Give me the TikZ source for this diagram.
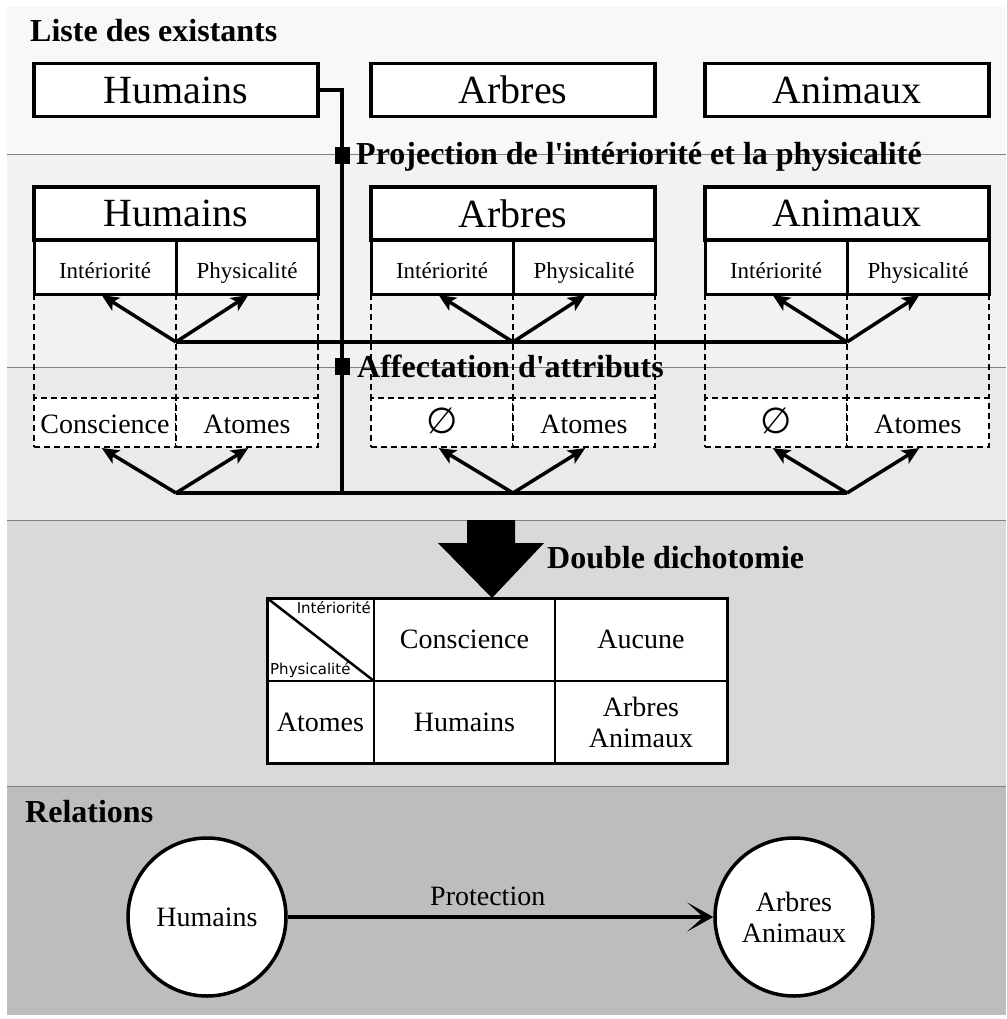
\documentclass[tikz,border=0pt]{standalone}
\usepackage{fontspec}
\setmainfont{Liberation Serif}
\newfontfamily\cellsans{DejaVu Sans}
\usetikzlibrary{positioning,arrows.meta}

\definecolor{bandA}{HTML}{F8F8F8}
\definecolor{bandB}{HTML}{F2F2F2}
\definecolor{bandC}{HTML}{EAEAEA}
\definecolor{bandD}{HTML}{D9D9D9}
\definecolor{bandE}{HTML}{BDBDBD}

\tikzset{
  bandline/.style={draw=black!50, line width=1pt},
  heading/.style={font=\fontsize{32}{36}\selectfont\bfseries, anchor=base west, inner sep=0pt},
  namebox/.style={draw, fill=white, line width=3.5pt, minimum width=284pt, minimum height=53pt,
    inner sep=0pt, outer sep=0pt, font=\fontsize{40}{44}\selectfont},
  subbox/.style={draw, fill=white, line width=3pt, minimum width=142pt, minimum height=54pt,
    inner sep=0pt, outer sep=0pt, text height=22pt, text depth=0pt,
    font=\fontsize{23}{26}\selectfont},
  attrbox/.style={draw, fill=white, line width=1.5pt, dash pattern=on 6pt off 4pt,
    minimum width=142pt, minimum height=49pt, inner sep=0pt, outer sep=0pt,
    text height=21pt, text depth=0pt, font=\fontsize{28}{30}\selectfont},
  guide/.style={line width=1.5pt, dash pattern=on 6pt off 4pt},
  conn/.style={line width=3.5pt},
  fork/.style={conn, -{Stealth[length=17pt,width=15pt,inset=4pt]}, shorten >=2pt},
  marker/.style={fill=black, minimum width=15pt, minimum height=17pt, inner sep=0pt},
  cell/.style={draw, fill=white, line width=2pt, inner sep=0pt, outer sep=0pt,
    font=\fontsize{28}{31}\selectfont, align=center},
  corner/.style={font=\cellsans\fontsize{15}{16}\selectfont, inner sep=3pt},
  entity/.style={circle, draw, fill=white, line width=3.5pt, minimum size=158pt, inner sep=0pt,
    font=\fontsize{28}{31}\selectfont, align=center},
  relarrow/.style={line width=4pt, -{Stealth[length=26pt,width=29pt,inset=16pt]}},
}
\newcommand{\noattr}{{\cellsans\fontsize{36}{36}\selectfont ∅}}

\begin{document}
\begin{tikzpicture}[x=1pt, y=-1pt]
\useasboundingbox (0,0) rectangle (1006,1019);
\fill[white] (0,0) rectangle (1006,1019);
% bands
\fill[bandA] (7,7) rectangle (1006,155);
\fill[bandB] (7,155) rectangle (1006,367);
\fill[bandC] (7,367) rectangle (1006,520);
\fill[bandD] (7,520) rectangle (1006,786);
\fill[bandE] (7,786) rectangle (1006,1015);
\foreach \yy in {155,367,520,786}
  \draw[bandline] (7,\yy) -- (1006,\yy);

\node[heading] (list) at (30,42) {Liste des existants};

% one column per existant
\foreach \nm/\cx/\ti/\at in {hum/176/Humains/Conscience, arb/513/Arbres/\noattr, ani/847/Animaux/\noattr}{
  \node[namebox] (\nm0) at (\cx,90) {\ti};
  \node[namebox] (\nm1) at (\cx,213.5) {\ti};
  \node[subbox, anchor=north east] (\nm1i) at (\nm1.south) {Intériorité};
  \node[subbox, anchor=north west] (\nm1p) at (\nm1.south) {Physicalité};
  \node[attrbox, anchor=north east] (\nm2i) at (\cx,398) {\at};
  \node[attrbox, anchor=north west] (\nm2p) at (\cx,398) {Atomes};
  \draw[guide] (\nm1i.south west) -- (\nm2i.north west);
  \draw[guide] (\nm1i.south east) -- (\nm2i.north east);
  \draw[guide] (\nm1p.south east) -- (\nm2p.north east);
  \coordinate (\nm-f1) at (\cx,342);
  \coordinate (\nm-f2) at (\cx,493);
}

% spine from the list
\coordinate (spine) at (342,493);
\draw[conn] (hum0.east) -| (spine);
\draw[conn] (hum-f1) -- (ani-f1);
\draw[conn] (hum-f2) -- (ani-f2);
\foreach \nm in {hum,arb,ani}{
  \draw[fork] (\nm-f1) -- ([xshift=-5pt]\nm1i.south);
  \draw[fork] (\nm-f1) -- ([xshift=3pt]\nm1p.south);
  \draw[fork] (\nm-f2) -- ([xshift=-5pt]\nm2i.south);
  \draw[fork] (\nm-f2) -- ([xshift=3pt]\nm2p.south);
}
\node[marker] (mark1) at (342,156) {};
\node[marker] (mark2) at (342,366) {};
\node[heading] (proj) at (356,165) {Projection de l\textquotesingle intériorité et la physicalité};
\node[heading] (affect) at (357,377) {Affectation d\textquotesingle attributs};

% double dichotomie
\fill (467,520) -- (515,520) -- (515,543) -- (544,543) -- (492,598)
  -- (438,543) -- (467,543) -- cycle;
\node[heading] (dicho) at (547,568) {Double dichotomie};

\node[cell, minimum width=107pt, minimum height=83pt, anchor=north west] (c11) at (267,598) {};
\node[cell, minimum width=181pt, minimum height=83pt, right=0pt of c11] (c12) {Conscience};
\node[cell, minimum width=172pt, minimum height=83pt, right=0pt of c12] (c13) {Aucune};
\node[cell, minimum width=107pt, minimum height=82pt, below=0pt of c11] (c21) {Atomes};
\node[cell, minimum width=181pt, minimum height=82pt, right=0pt of c21] (c22) {Humains};
\node[cell, minimum width=172pt, minimum height=82pt, right=0pt of c22] (c23) {Arbres\\Animaux};
\draw[line width=3pt] (c11.north west) rectangle (c23.south east);
\draw[line width=2.5pt] (c11.north west) -- (c11.south east);
\node[corner, anchor=north east] (cin) at (c11.north east) {Intériorité};
\node[corner, anchor=south west] (cphy) at (c11.south west) {Physicalité};

% relations
\node[heading] (rel) at (25,822) {Relations};
\node[entity] (who) at (207,917) {Humains};
\node[entity] (whom) at (794,917) {Arbres\\Animaux};
\draw[relarrow] (who) -- node[above=6pt, pos=0.47, inner sep=3pt, font=\fontsize{28}{31}\selectfont] (prot) {Protection} (whom);
\end{tikzpicture}
\end{document}
